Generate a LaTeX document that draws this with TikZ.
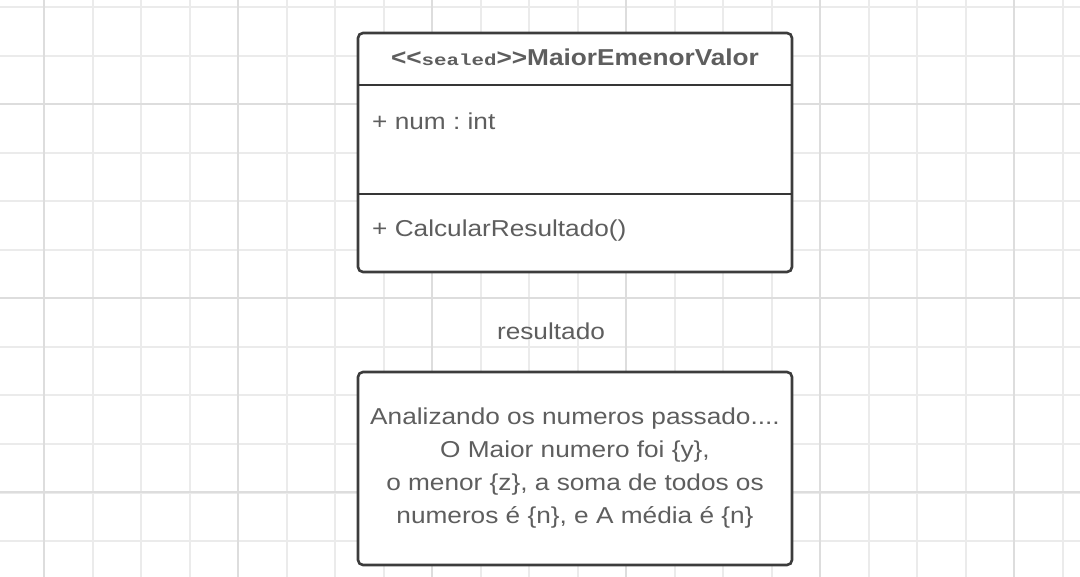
\documentclass[tikz,border=0pt]{standalone}
\usepackage{fontspec}
\setmainfont[FakeStretch=1.14, Ligatures=TeXOff]{Liberation Sans}
\setmonofont[FakeStretch=1.3]{Liberation Mono}
\usepackage{tikz}
\usepackage{xcolor}
\usetikzlibrary{positioning, calc}
\frenchspacing

\definecolor{gridminor}{HTML}{EBEBEB}
\definecolor{gridmajor}{HTML}{DDDDDD}
\definecolor{boxline}{HTML}{3C3C3C}
\definecolor{umltext}{HTML}{5E5E5E}

\tikzset{
  minorline/.style={gridminor, line width=2pt},
  majorline/.style={gridmajor, line width=2pt},
  umlbox/.style={boxline, line width=2.6pt, rounded corners=5pt, fill=white},
  divider/.style={boxline!90!black, line width=2pt},
  umltxt/.style={text=umltext, inner sep=0pt, font=\fontsize{23}{33}\selectfont}
}

\begin{document}
\begin{tikzpicture}[x=1pt, y=-1pt]
\useasboundingbox (0,0) rectangle (1080,577);
\fill[white] (0,0) rectangle (1080,577);

% Background grid
\foreach \i in {0,...,22} {
    \pgfmathsetmacro{\x}{-4.5+48.5*\i}
    \draw[minorline] (\x,0) -- (\x,577);
}
\foreach \i in {0,...,11} {
    \pgfmathsetmacro{\y}{7.5+48.5*\i}
    \draw[minorline] (0,\y) -- (1080,\y);
}
\foreach \x in {44,238,432,626,820,1014}
    \draw[majorline] (\x,0) -- (\x,577);
\foreach \y in {104,298,492}
    \draw[majorline] (0,\y) -- (1080,\y);

% Class box
\draw[umlbox] (358,33) rectangle (792,272);
\draw[divider] (358,85) -- (792,85);
\draw[divider] (358,194) -- (792,194);
\node[umltxt] (classname) at (575,57)
    {{\bfseries<\kern0pt<}{\ttfamily\bfseries\fontsize{16}{20}\selectfont sealed}{\bfseries>\kern0pt>MaiorEmenorValor}};
\node[umltxt, anchor=west] (attr) at (372,121) {+ num : int};
\node[umltxt, anchor=west] (method) at (372,231) {+ CalcularResultado()};

% Output box
\node[umltxt] (outlabel) at (551,331) {resultado};
\draw[umlbox] (358,372) rectangle (792,565);
\node[umltxt, align=center] (outtext) at (575,468.5)
    {Analizando os numeros passado....\\
     O Maior numero foi \{y\},\\
     o menor \{z\}, a soma de todos os\\
     numeros é \{n\}, e A média é \{n\}};
\end{tikzpicture}
\end{document}
